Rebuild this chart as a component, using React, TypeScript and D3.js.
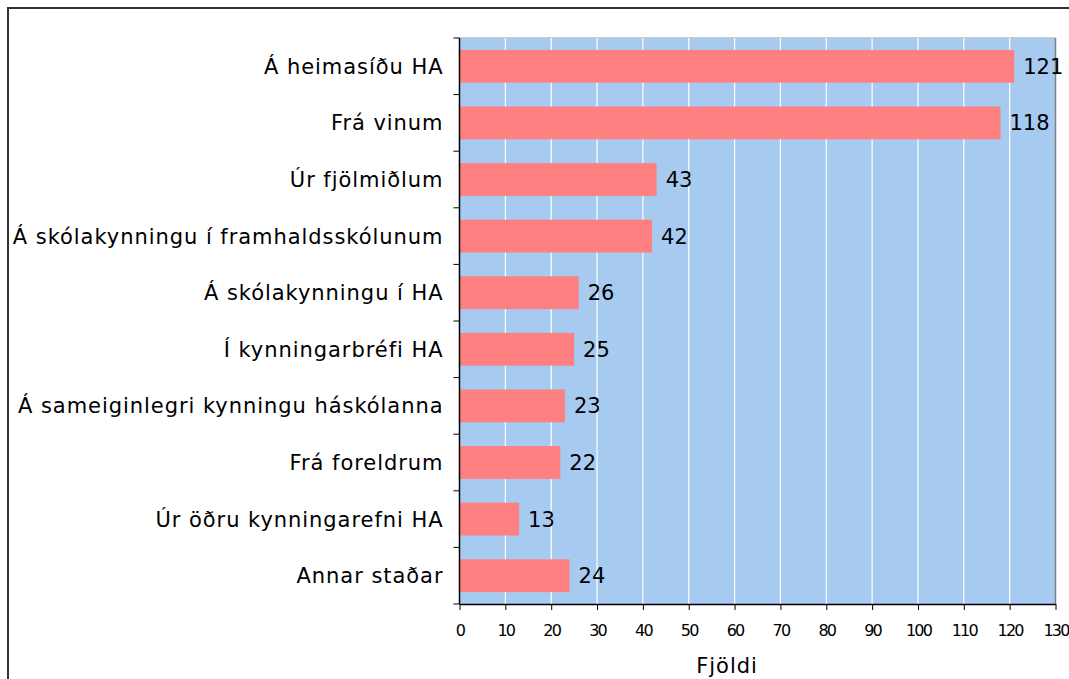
import {useEffect, useRef} from "react";
import * as d3 from "d3";

const categories = [
    "Á heimasíðu HA",
    "Frá vinum",
    "Úr fjölmiðlum",
    "Á skólakynningu í framhaldsskólunum",
    "Á skólakynningu í HA",
    "Í kynningarbréfi HA",
    "Á sameiginlegri kynningu háskólanna",
    "Frá foreldrum",
    "Úr öðru kynningarefni HA",
    "Annar staðar",
]
const values = [121, 118, 43, 42, 26, 25, 23, 22, 13, 24]
const xTicks = [0, 10, 20, 30, 40, 50, 60, 70, 80, 90, 100, 110, 120, 130]
const xTitle = "Fjöldi"

const W = 1069
const H = 679

const App = () => {
    const svgRef = useRef<SVGSVGElement>(null)

    useEffect(() => {
        const svg = d3.select(svgRef.current)
        svg.selectAll("*").remove()

        const left = 459.5, right = 1055.5, top = 38, bottom = 604
        const x = d3.scaleLinear().domain([0, 130]).range([left, right])
        const y = d3.scaleBand<string>().domain(categories).range([top, bottom]).paddingInner(0.42).paddingOuter(0.21)
        const yb = d3.scaleBand<string>().domain(categories).range([top, bottom])

        // outer frame
        svg.append("rect").attr("x", 8).attr("y", 8).attr("width", W + 20).attr("height", H + 20)
            .attr("fill", "white").attr("stroke", "#333").attr("stroke-width", 2)

        // plot area
        svg.append("rect").attr("x", left).attr("y", top).attr("width", right - left).attr("height", bottom - top)
            .attr("fill", "#A6CAF0")

        // grid
        svg.append("g").selectAll("line").data(xTicks.slice(1, -1)).join("line")
            .attr("x1", d => x(d)).attr("x2", d => x(d)).attr("y1", top).attr("y2", bottom)
            .attr("stroke", "white").attr("stroke-width", 1.2)

        svg.append("line").attr("x1", left).attr("x2", right).attr("y1", top - 0.5).attr("y2", top - 0.5).attr("stroke", "#ccc")
        svg.append("line").attr("x1", right).attr("x2", right).attr("y1", top).attr("y2", bottom).attr("stroke", "#808080").attr("stroke-width", 1.5)

        // bars
        svg.append("g").selectAll("rect").data(values).join("rect")
            .attr("x", x(0)).attr("y", (d, i) => y(categories[i])!)
            .attr("width", d => x(d) - x(0)).attr("height", y.bandwidth())
            .attr("fill", "#FF8080")

        // value labels
        svg.append("g").selectAll("text").data(values).join("text")
            .attr("x", d => x(d) + 9).attr("y", (d, i) => y(categories[i])! + y.bandwidth() / 2)
            .attr("dy", "0.36em").attr("font-family", "DejaVu Sans").attr("font-size", 21)
            .attr("fill", "#000").text(d => d)

        // y axis
        svg.append("line").attr("x1", left).attr("x2", left).attr("y1", top).attr("y2", bottom).attr("stroke", "#000").attr("stroke-width", 1.5)
        svg.append("g").selectAll("line").data(d3.range(categories.length + 1)).join("line")
            .attr("x1", left - 6).attr("x2", left).attr("y1", i => top + i * yb.step()).attr("y2", i => top + i * yb.step())
            .attr("stroke", "#000")
        svg.append("g").selectAll("text").data(categories).join("text")
            .attr("x", left - 16).attr("y", d => yb(d)! + yb.bandwidth() / 2)
            .attr("dy", "0.36em").attr("text-anchor", "end")
            .attr("font-family", "DejaVu Sans").attr("font-size", 21).attr("letter-spacing", 0.95)
            .text(d => d)

        // x axis
        const xAxis = d3.axisBottom(x).tickValues(xTicks).tickSize(6).tickSizeOuter(0).tickPadding(15)
        const gx = svg.append("g").attr("transform", `translate(0,${bottom})`).call(xAxis)
        gx.select(".domain").attr("stroke", "#000").attr("stroke-width", 1.5)
        gx.selectAll(".tick line").attr("stroke", "#000")
        gx.selectAll("text").attr("font-family", "DejaVu Sans").attr("font-size", 16)
            .attr("letter-spacing", -1.8).attr("fill", "#000")

        svg.append("text").attr("x", 727).attr("y", 673)
            .attr("text-anchor", "middle").attr("font-family", "DejaVu Sans").attr("font-size", 21)
            .attr("letter-spacing", 0.95).text(xTitle)
    }, [])

    return (
        <svg ref={svgRef} width={W} height={H} style={{position: "absolute", left: 0, top: 0, display: "block"}}/>
    )
}

export default App
